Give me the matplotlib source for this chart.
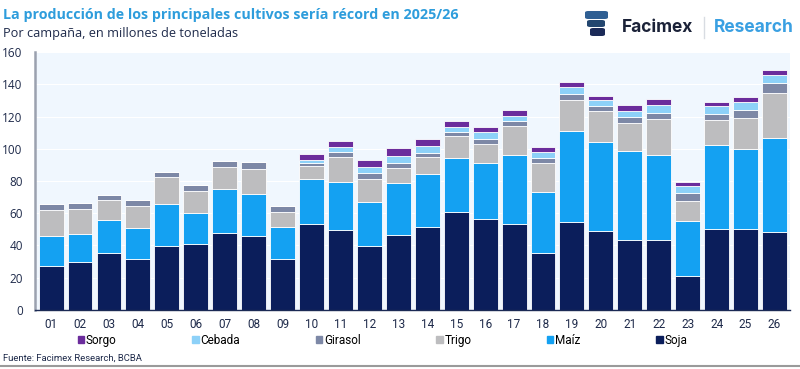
import matplotlib
matplotlib.use('Agg')
import matplotlib.pyplot as plt
from matplotlib.patches import FancyBboxPatch, Patch
import numpy as np

# ── Palette ──────────────────────────────────────────
NAVY = "#0B1E5B"; BLUE = "#14A1F2"; GREY = "#BDBDBF"
SLATE = "#7D88A6"; LIGHT = "#8DD1F8"; PURPLE = "#6B2C9C"
TITLE_BLUE = "#2E9DDC"; BG = "#F0F7FE"

plt.rcParams['font.family'] = ['Open Sans', 'DejaVu Sans']

# ── Data (millones de toneladas, por campaña) ───────
campanas = ["01", "02", "03", "04", "05", "06", "07", "08", "09", "10", "11", "12", "13",
            "14", "15", "16", "17", "18", "19", "20", "21", "22", "23", "24", "25", "26"]
soja    = [27.3, 30.0, 35.5, 31.8, 39.7, 40.9, 47.7, 46.1, 31.7, 53.5, 49.4, 39.9, 46.7,
           51.7, 60.7, 56.2, 53.5, 35.5, 54.5, 49.2, 43.2, 43.2, 21.1, 50.4, 50.4, 48.3]
maiz    = [18.6, 17.3, 20.1, 18.8, 26.0, 19.0, 27.5, 25.6, 20.0, 27.5, 29.7, 26.8, 31.8,
           32.6, 33.3, 34.7, 42.6, 37.5, 56.5, 54.9, 55.6, 52.7, 34.1, 52.1, 49.6, 58.1]
trigo   = [16.3, 15.3, 12.4, 14.1, 16.5, 14.1, 13.6, 15.5, 9.0, 8.0, 15.9, 14.3, 9.3,
           10.7, 13.9, 12.0, 17.9, 18.3, 19.2, 19.2, 17.3, 22.7, 12.6, 15.3, 18.8, 27.9]
girasol = [3.3, 3.5, 3.5, 3.3, 3.5, 3.5, 3.8, 4.7, 3.5, 2.0, 3.1, 3.7, 3.1,
           2.1, 2.6, 2.9, 3.1, 3.1, 3.5, 3.1, 3.7, 3.3, 4.5, 3.5, 5.2, 6.2]
cebada  = [0, 0, 0, 0, 0, 0, 0, 0, 0, 2.3, 2.7, 4.1, 4.8,
           4.8, 3.1, 4.5, 3.4, 3.3, 4.7, 3.8, 3.8, 5.4, 4.6, 5.1, 4.7, 5.2]
sorgo   = [0, 0, 0, 0, 0, 0, 0, 0, 0, 3.7, 4.0, 4.2, 4.5,
           4.1, 3.5, 3.3, 3.3, 3.1, 2.9, 2.4, 3.5, 3.5, 2.4, 2.9, 3.1, 3.1]

series = [("Soja", soja, NAVY), ("Maíz", maiz, BLUE), ("Trigo", trigo, GREY),
          ("Girasol", girasol, SLATE), ("Cebada", cebada, LIGHT), ("Sorgo", sorgo, PURPLE)]

# ── Figure ───────────────────────────────────────────
fig = plt.figure(figsize=(8, 3.69), dpi=100)
fig.patch.set_facecolor("white")
ax = fig.add_axes([0.044, 0.160, 0.944, 0.699])
ax.set_facecolor(BG)

x = np.arange(len(campanas))
bottom = np.zeros(len(campanas))
for name, vals, col in series:
    ax.bar(x, vals, bottom=bottom, width=0.86, color=col, label=name,
           edgecolor="white", linewidth=0.6)
    bottom += np.array(vals)

ax.set_xlim(-0.55, len(campanas) - 0.45)
ax.set_ylim(0, 160)
ax.set_yticks(range(0, 161, 20))
ax.yaxis.grid(True, color="white", linewidth=0.8)
ax.set_axisbelow(True)
ax.set_xticks(x)
ax.set_xticklabels(campanas, fontfamily="Roboto")
ax.tick_params(axis="both", length=0, labelsize=8.5, colors="#1E2A4A", pad=6)
ax.tick_params(axis="y", pad=9)
for s in ["top", "right"]:
    ax.spines[s].set_visible(False)
ax.spines["left"].set_color("#9BA1AF"); ax.spines["left"].set_linewidth(1.8)
ax.spines["bottom"].set_color("#1B2A55"); ax.spines["bottom"].set_linewidth(1.0)

# ── Legend (reverse stack order) ─────────────────────
handles = [Patch(color=col, label=name) for name, _, col in series[::-1]]
fig.legend(handles=handles, loc="center", bbox_to_anchor=(0.478, 0.077), ncol=6,
           frameon=False, handlelength=0.55, handleheight=0.55, handletextpad=0.15,
           columnspacing=6.4, prop={"family": "Roboto", "size": 8.5})

# ── Titles ───────────────────────────────────────────
fig.text(0.004, 0.958, "La producción de los principales cultivos sería récord en 2025/26",
         color=TITLE_BLUE, fontsize=10.3, fontweight="bold", va="center")
fig.text(0.004, 0.908, "Por campaña, en millones de toneladas",
         color="#1E2A4A", fontsize=9.2, va="center")
fig.text(0.004, 0.030, "Fuente: Facimex Research, BCBA",
         color="#1E2A4A", fontsize=6.8, va="center", fontfamily="Roboto")
fig.add_artist(plt.Line2D([0, 1], [0.008, 0.008], color="#9A9A9A", linewidth=1.5))

# ── Logo ─────────────────────────────────────────────
W, H = 800, 369
for (x0, y0, w, h, c) in [(585, 11, 23, 8, "#2F5F93"), (587, 20, 18, 7, "#23466F"),
                          (590, 28, 15, 8, "#1B2A58")]:
    fig.add_artist(FancyBboxPatch((x0 / W, 1 - (y0 + h) / H), w / W, h / H,
                                  boxstyle="round,pad=0,rounding_size=0.004",
                                  transform=fig.transFigure, color=c, linewidth=0))
fig.text(622 / W, 1 - 27 / H, "Facimex", color="#1B2238", fontsize=12.5,
         fontweight="bold", va="center", fontfamily="Inter")
fig.add_artist(plt.Line2D([704 / W, 704 / W], [1 - 17 / H, 1 - 38 / H],
                          color="#D8DCE2", linewidth=1))
fig.text(714 / W, 1 - 27 / H, "Research", color="#3AA0E2", fontsize=12.5,
         fontweight="bold", va="center", fontfamily="Inter")

fig.savefig("out.png", dpi=100, facecolor="white")
